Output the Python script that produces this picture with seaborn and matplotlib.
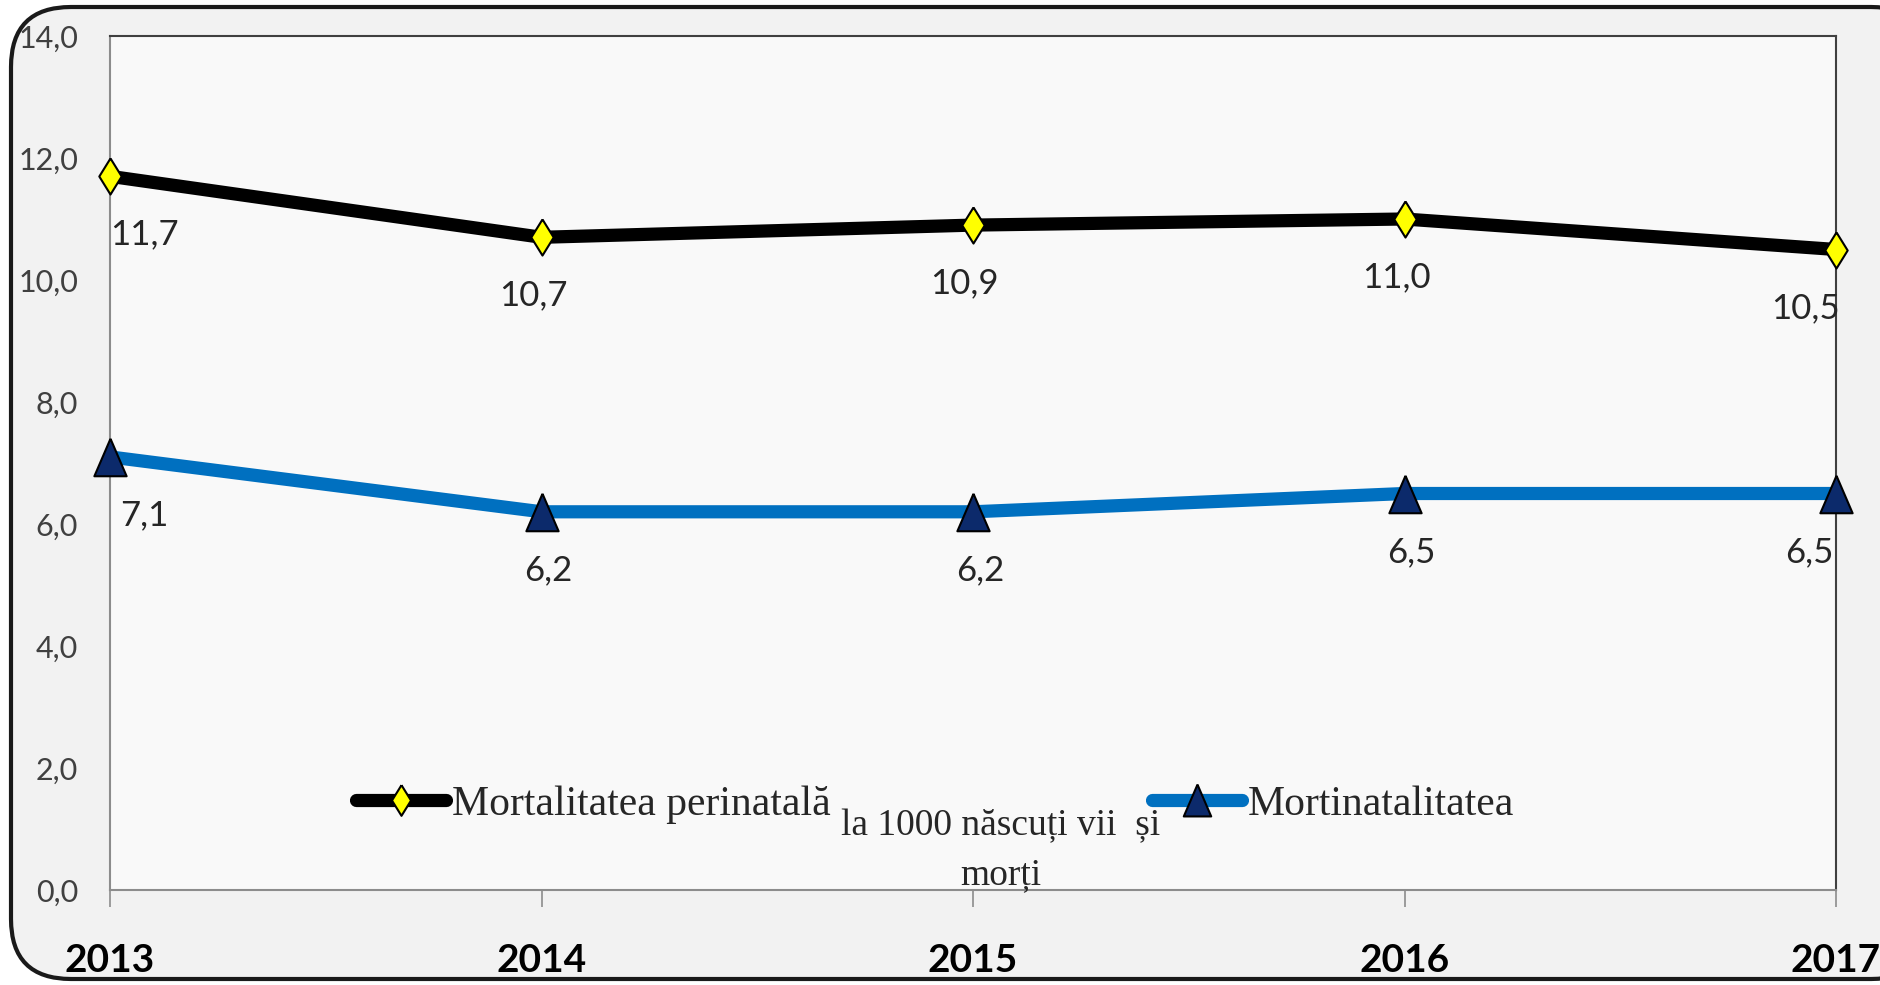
import pandas as pd
import seaborn as sns
import matplotlib.pyplot as plt
from matplotlib.patches import FancyBboxPatch
from matplotlib.transforms import IdentityTransform

YEARS = [2013, 2014, 2015, 2016, 2017]
PERINATAL = [11.7, 10.7, 10.9, 11.0, 10.5]
STILLBIRTH = [7.1, 6.2, 6.2, 6.5, 6.5]
Y_TICKS = [0, 2, 4, 6, 8, 10, 12, 14]

LABEL_PERINATAL = "Mortalitatea perinatală"
LABEL_STILLBIRTH = "Mortinatalitatea"
UNIT_TEXT = "la 1000 născuți vii  și\nmorți"

SANS = ["Lato", "DejaVu Sans"]
SERIF = ["Liberation Serif", "DejaVu Serif"]

# the source picture is squeezed sideways, so its markers are tall
TALL_DIAMOND = [(0, 1), (0.62, 0), (0, -1), (-0.62, 0), (0, 1)]
TALL_TRIANGLE = [(0, 1), (0.86, -1), (-0.86, -1), (0, 1)]


def fmt(v):
    return "{:.1f}".format(v).replace(".", ",")


def add_labels(ax, xs, ys, dx_first, dx_mid, dx_last):
    last = len(xs) - 1
    for i, (x, y) in enumerate(zip(xs, ys)):
        if i == 0:
            ha, dx = "left", dx_first
        elif i == last:
            ha, dx = "right", dx_last
        else:
            ha, dx = "center", dx_mid
        ax.annotate(fmt(y), (x, y), xytext=(dx, -42), textcoords="offset points",
                    ha=ha, va="center", fontsize=25, color="#262626",
                    family=SANS, zorder=5)


def main():
    sns.set_theme(style="white")
    plt.rcParams["font.family"] = SANS

    fig = plt.figure(figsize=(18.8, 9.85), dpi=100)
    fig.patch.set_facecolor("white")

    # rounded outer frame, running off the right edge like the source
    frame = FancyBboxPatch((11, 6), 1920, 972,
                           boxstyle="round,pad=0,rounding_size=60",
                           transform=IdentityTransform(),
                           facecolor="#f2f2f2", edgecolor="#1a1a1a",
                           linewidth=3, zorder=0)
    fig.add_artist(frame)

    ax = fig.add_axes([110 / 1880, 95 / 985, 1726 / 1880, 854 / 985])
    ax.set_facecolor("#f9f9f9")

    df = pd.DataFrame({"year": YEARS, "perinatal": PERINATAL, "stillbirth": STILLBIRTH})

    sns.lineplot(data=df, x="year", y="perinatal", ax=ax, color="black",
                 linewidth=9.5, marker=TALL_DIAMOND, markersize=26,
                 markerfacecolor="#ffff00", markeredgecolor="black",
                 markeredgewidth=1.5, label=LABEL_PERINATAL, clip_on=False, zorder=3)
    sns.lineplot(data=df, x="year", y="stillbirth", ax=ax, color="#0070c0",
                 linewidth=9.5, marker=TALL_TRIANGLE, markersize=27,
                 markerfacecolor="#0c2a6b", markeredgecolor="black",
                 markeredgewidth=1.5, label=LABEL_STILLBIRTH, clip_on=False, zorder=3)

    add_labels(ax, YEARS, PERINATAL, 0, -6, 3)
    add_labels(ax, YEARS, STILLBIRTH, 7, 5, -2)

    ax.set_xlim(YEARS[0], YEARS[-1])
    ax.set_ylim(0, 14)
    ax.set_xticks(YEARS)
    ax.set_xticklabels([str(y) for y in YEARS], fontsize=28, fontweight="bold", color="black")
    ax.set_yticks(Y_TICKS)
    ax.set_yticklabels([fmt(v) for v in Y_TICKS], fontsize=22, color="#404040")
    ax.set_xlabel("")
    ax.set_ylabel("")

    ax.tick_params(axis="x", bottom=True, length=12, width=1.2, color="#8c8c8c", pad=26)
    ax.tick_params(axis="y", left=False, length=0, pad=23)

    for side in ["top", "right"]:
        ax.spines[side].set_color("#404040")
        ax.spines[side].set_linewidth(1.5)
    for side in ["left", "bottom"]:
        ax.spines[side].set_color("#8c8c8c")
        ax.spines[side].set_linewidth(1.5)

    ax.legend(loc="center", bbox_to_anchor=(0.478, 0.100), ncol=2, frameon=False,
              prop={"family": SERIF, "size": 30}, handlelength=2.16,
              handletextpad=0.15, columnspacing=7.7, markerscale=0.85)

    ax.text(0.516, 0.046, UNIT_TEXT, transform=ax.transAxes, ha="center", va="center",
            fontsize=27, family=SERIF, linespacing=1.55, color="#262626", zorder=6)

    fig.savefig("out.png", dpi=100)


if __name__ == "__main__":
    main()
